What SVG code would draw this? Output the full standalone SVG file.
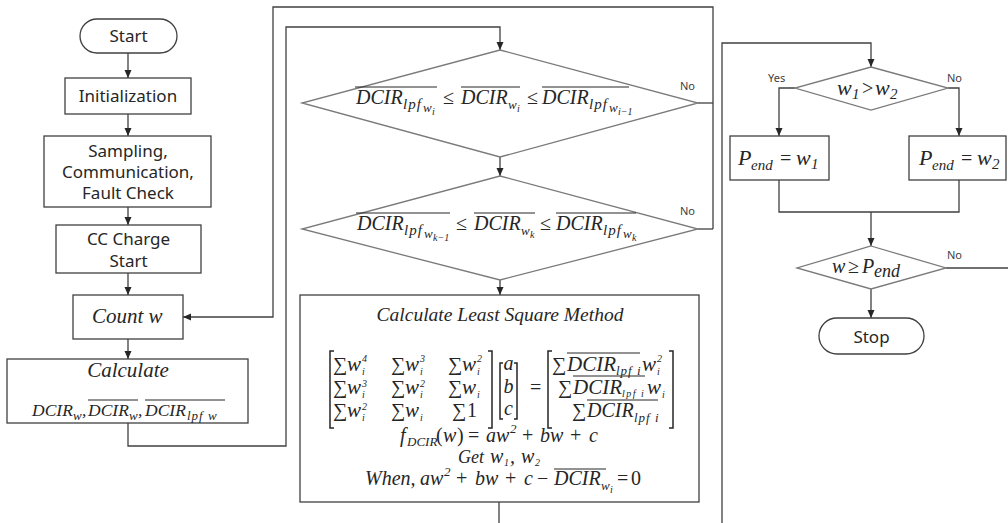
<svg xmlns="http://www.w3.org/2000/svg" width="1008" height="523" viewBox="0 0 1008 523">
<style>
.box{fill:#fff;stroke:#404040;stroke-width:1.3}
.dia{fill:#fff;stroke:#7a7a7a;stroke-width:1.3}
.ln{fill:none;stroke:#404040;stroke-width:1.3}
.ov{fill:none;stroke:#262626;stroke-width:1}
.br{fill:none;stroke:#262626;stroke-width:1.5}
.sans{font-family:"Noto Sans","Open Sans",sans-serif;font-size:17px;fill:#262626}
.lbl{font-family:"Noto Sans","Open Sans",sans-serif;font-size:11px;fill:#404040}
.m{font-family:"Liberation Serif","Times New Roman",serif;font-style:italic;font-size:20px;fill:#262626}
.u{font-style:normal}
.w{font-size:21px}
.s{font-size:15px}
.ss{font-size:13px}
.sm{font-size:10px}
.sss{font-size:10px}
</style>
<defs>
<marker id="ah" markerUnits="userSpaceOnUse" markerWidth="8" markerHeight="8" viewBox="0 0 8 8" refX="8" refY="4" orient="auto">
<path d="M0,0.5 L8,4 L0,7.5 z" fill="#262626"/>
</marker>
</defs>
<rect width="1008" height="523" fill="#fff"/>

<g id="connectors">
<path class="ln" d="M128 53 V78" marker-end="url(#ah)"/>
<path class="ln" d="M128 114 V136" marker-end="url(#ah)"/>
<path class="ln" d="M128 207 V225" marker-end="url(#ah)"/>
<path class="ln" d="M128 273 V295" marker-end="url(#ah)"/>
<path class="ln" d="M128 339 V359" marker-end="url(#ah)"/>
<path class="ln" d="M128 423 V446 H286 V27 H500 V50" marker-end="url(#ah)"/>
<path class="ln" d="M500 157 V176" marker-end="url(#ah)"/>
<path class="ln" d="M698 103 H713"/>
<path class="ln" d="M698 229 H713"/>
<path class="ln" d="M713 229 V7 H273 V317 H183" marker-end="url(#ah)"/>
<path class="ln" d="M500 280 V295" marker-end="url(#ah)"/>
<path class="ln" d="M499 502 V523"/>
<path class="ln" d="M722 523 V43 H871 V67" marker-end="url(#ah)"/>
<path class="ln" d="M795 88 H779 V136" marker-end="url(#ah)"/>
<path class="ln" d="M948 88 H959 V136" marker-end="url(#ah)"/>
<path class="ln" d="M779 180 V212 H959 V180"/>
<path class="ln" d="M871 212 V246" marker-end="url(#ah)"/>
<path class="ln" d="M946 268 H1008"/>
<path class="ln" d="M871 289 V318" marker-end="url(#ah)"/>
<text class="lbl" x="680" y="90">No</text>
<text class="lbl" x="680" y="215">No</text>
<text class="lbl" x="768" y="82">Yes</text>
<text class="lbl" x="947" y="82">No</text>
<text class="lbl" x="947" y="259">No</text>
</g>

<g id="start">
<rect class="box" x="80" y="19" width="97" height="34" rx="17"/>
<text class="sans" x="128.5" y="42" text-anchor="middle">Start</text>
</g>
<g id="init">
<rect class="box" x="65" y="78" width="126" height="36"/>
<text class="sans" x="128" y="102" text-anchor="middle">Initialization</text>
</g>
<g id="sampling">
<rect class="box" x="44" y="136" width="167" height="71"/>
<text class="sans" x="128" y="157" text-anchor="middle">Sampling,</text>
<text class="sans" x="128" y="178" text-anchor="middle">Communication,</text>
<text class="sans" x="128" y="199" text-anchor="middle">Fault Check</text>
</g>
<g id="cc">
<rect class="box" x="56" y="225" width="145" height="48"/>
<text class="sans" x="128.5" y="245" text-anchor="middle">CC Charge</text>
<text class="sans" x="128.5" y="267" text-anchor="middle">Start</text>
</g>
<g id="count">
<rect class="box" x="73" y="295" width="110" height="44"/>
<text class="m" x="92" y="323" style="font-size:21px">Count w</text>
</g>
<g id="calc">
<rect class="box" x="7" y="359" width="241" height="64"/>
<text class="m" x="128" y="377" text-anchor="middle" style="font-size:21px">Calculate</text>
<text class="m" style="font-size:17.5px"><tspan x="32" y="416">DCIR</tspan><tspan class="ss" x="73" y="420">w</tspan><tspan x="82" y="416">,</tspan><tspan x="88" y="416">DCIR</tspan><tspan class="ss" x="129" y="420">w</tspan><tspan x="138" y="416">,</tspan><tspan x="145" y="416">DCIR</tspan><tspan class="ss" x="187" y="420" letter-spacing="1">lpf w</tspan></text>
<path class="ov" d="M88 400 H138 M145 400 H225"/>
</g>

<g id="dec1">
<polygon class="dia" points="500,50 698,103 500,157 302,103"/>
<text class="m"><tspan x="356" y="104">DCIR</tspan><tspan class="s" x="403" y="109" letter-spacing="1">lpf</tspan><tspan class="ss" x="423" y="112">w</tspan><tspan class="sss" x="432" y="115">i</tspan><tspan class="u" x="443" y="104">≤</tspan><tspan x="461" y="104">DCIR</tspan><tspan class="ss" x="508" y="109">w</tspan><tspan class="sss" x="517" y="112">i</tspan><tspan class="u" x="527" y="104">≤</tspan><tspan x="542" y="104">DCIR</tspan><tspan class="s" x="589" y="109" letter-spacing="1">lpf</tspan><tspan class="ss" x="609" y="112">w</tspan><tspan class="sss" x="618" y="115">i−1</tspan></text>
<path class="ov" d="M355 87 H437 M461 87 H520 M542 87 H629"/>
</g>

<g id="dec2">
<polygon class="dia" points="500,176 698,229 500,280 302,229"/>
<text class="m"><tspan x="357" y="230">DCIR</tspan><tspan class="s" x="404" y="235" letter-spacing="1">lpf</tspan><tspan class="ss" x="424" y="238">w</tspan><tspan class="sss" x="433" y="241">k−1</tspan><tspan class="u" x="456" y="230">≤</tspan><tspan x="474" y="230">DCIR</tspan><tspan class="ss" x="521" y="235">w</tspan><tspan class="sss" x="530" y="238">k</tspan><tspan class="u" x="540" y="230">≤</tspan><tspan x="556" y="230">DCIR</tspan><tspan class="s" x="603" y="235" letter-spacing="1">lpf</tspan><tspan class="ss" x="623" y="238">w</tspan><tspan class="sss" x="632" y="241">k</tspan></text>
<path class="ov" d="M356 213 H450 M474 213 H535 M556 213 H636"/>
</g>

<g id="lsm">
<rect class="box" x="300" y="295" width="399" height="207"/>
<text class="m" x="500" y="321" text-anchor="middle" style="font-size:19.5px">Calculate Least Square Method</text>
<path class="br" d="M334 351 H330 V428 H334 M488 351 H492 V428 H488"/>
<path class="br" d="M503 363 H500 V419 H503 M514 363 H517 V419 H514"/>
<path class="br" d="M552 351 H548 V428 H552 M669 351 H673 V428 H669"/>
<text class="m"><tspan class="u" x="333" y="371">∑</tspan><tspan class="w" x="347" y="371">w</tspan><tspan class="sm" x="362" y="362">4</tspan><tspan class="sm" x="362" y="375">i</tspan><tspan class="u" x="391" y="371">∑</tspan><tspan class="w" x="405" y="371">w</tspan><tspan class="sm" x="420" y="362">3</tspan><tspan class="sm" x="420" y="375">i</tspan><tspan class="u" x="448" y="371">∑</tspan><tspan class="w" x="462" y="371">w</tspan><tspan class="sm" x="477" y="362">2</tspan><tspan class="sm" x="477" y="375">i</tspan><tspan class="u" x="333" y="394">∑</tspan><tspan class="w" x="347" y="394">w</tspan><tspan class="sm" x="362" y="387">3</tspan><tspan class="sm" x="362" y="398">i</tspan><tspan class="u" x="391" y="394">∑</tspan><tspan class="w" x="405" y="394">w</tspan><tspan class="sm" x="420" y="387">2</tspan><tspan class="sm" x="420" y="398">i</tspan><tspan class="u" x="448" y="394">∑</tspan><tspan class="w" x="462" y="394">w</tspan><tspan class="sm" x="477" y="398">i</tspan><tspan class="u" x="333" y="417">∑</tspan><tspan class="w" x="347" y="417">w</tspan><tspan class="sm" x="362" y="410">2</tspan><tspan class="sm" x="362" y="421">i</tspan><tspan class="u" x="391" y="417">∑</tspan><tspan class="w" x="405" y="417">w</tspan><tspan class="sm" x="420" y="421">i</tspan><tspan class="u" x="452" y="417">∑</tspan><tspan class="u" x="467" y="417">1</tspan></text>
<text class="m" text-anchor="middle"><tspan x="508.5" y="370">a</tspan><tspan x="508.5" y="393">b</tspan><tspan x="508.5" y="415">c</tspan></text>
<text class="m u" x="530" y="394">=</text>
<text class="m"><tspan class="u" x="552" y="371">∑</tspan><tspan x="567" y="371" style="font-size:21px">DCIR</tspan><tspan class="ss" x="616" y="375" letter-spacing="1">lpf i</tspan><tspan class="w" x="642" y="371">w</tspan><tspan class="sm" x="657" y="362">2</tspan><tspan class="sm" x="657" y="375">i</tspan><tspan class="u" x="558" y="394">∑</tspan><tspan x="573" y="394" style="font-size:21px">DCIR</tspan><tspan class="sm" x="622" y="397" letter-spacing="1.5">lpf i</tspan><tspan class="w" x="647" y="394">w</tspan><tspan class="sm" x="662" y="398">i</tspan><tspan class="u" x="572" y="417">∑</tspan><tspan x="587" y="417" style="font-size:20px">DCIR</tspan><tspan class="ss" x="634" y="422" letter-spacing="1">lpf i</tspan></text>
<path class="ov" d="M567 353 H640 M573 376 H645 M587 400 H658"/>
<text class="m"><tspan x="400" y="442">f</tspan><tspan class="ss" x="407" y="446">DCIR</tspan><tspan class="u" x="436" y="442">(</tspan><tspan x="443" y="442">w</tspan><tspan class="u" x="457" y="442">)</tspan><tspan class="u" x="468" y="442">=</tspan><tspan x="486" y="442">aw</tspan><tspan class="ss" x="510" y="433">2</tspan><tspan class="u" x="522" y="442">+</tspan><tspan x="540" y="442">bw</tspan><tspan class="u" x="570" y="442">+</tspan><tspan x="589" y="442">c</tspan></text>
<text class="m"><tspan x="458" y="463" style="font-size:18px">Get</tspan><tspan x="490" y="463">w</tspan><tspan class="sm" x="504" y="466">1</tspan><tspan x="510" y="463">,</tspan><tspan x="521" y="463">w</tspan><tspan class="sm" x="535" y="466">2</tspan></text>
<text class="m"><tspan x="365" y="485">When,</tspan><tspan x="420" y="485">aw</tspan><tspan class="ss" x="444" y="476">2</tspan><tspan class="u" x="456" y="485">+</tspan><tspan x="475" y="485">bw</tspan><tspan class="u" x="505" y="485">+</tspan><tspan x="524" y="485">c</tspan><tspan class="u" x="537" y="485">−</tspan><tspan x="554" y="485">DCIR</tspan><tspan class="ss" x="601" y="490">w</tspan><tspan class="sss" x="610" y="493">i</tspan><tspan class="u" x="617" y="485">=</tspan><tspan class="u" x="631" y="485">0</tspan></text>
<path class="ov" d="M554 469 H606"/>
</g>

<g id="dec3">
<polygon class="dia" points="871,67 948,88 871,110 795,88"/>
<text class="m"><tspan x="837" y="95" style="font-size:22px">w</tspan><tspan class="s" x="852" y="99">1</tspan><tspan class="u" x="862" y="95">&gt;</tspan><tspan x="875" y="95" style="font-size:22px">w</tspan><tspan class="s" x="890" y="99">2</tspan></text>
</g>
<g id="pend1">
<rect class="box" x="730" y="136" width="99" height="44"/>
<text class="m"><tspan x="738" y="165" style="font-size:22px">P</tspan><tspan x="751" y="170" style="font-size:15px">end</tspan><tspan class="u" x="780" y="165">=</tspan><tspan x="796" y="165" style="font-size:22px">w</tspan><tspan class="s" x="811" y="169">1</tspan></text>
</g>
<g id="pend2">
<rect class="box" x="909" y="136" width="97" height="44"/>
<text class="m"><tspan x="919" y="165" style="font-size:22px">P</tspan><tspan x="932" y="170" style="font-size:15px">end</tspan><tspan class="u" x="961" y="165">=</tspan><tspan x="977" y="165" style="font-size:22px">w</tspan><tspan class="s" x="992" y="169">2</tspan></text>
</g>
<g id="dec4">
<polygon class="dia" points="871,246 946,268 871,289 797,268"/>
<text class="m"><tspan x="832" y="273">w</tspan><tspan class="u" x="848" y="273">≥</tspan><tspan x="862" y="273">P</tspan><tspan x="874" y="277" style="font-size:18px">end</tspan></text>
</g>
<g id="stop">
<rect class="box" x="819" y="318" width="105" height="36" rx="18"/>
<text class="sans" x="871.5" y="343" text-anchor="middle">Stop</text>
</g>
</svg>
